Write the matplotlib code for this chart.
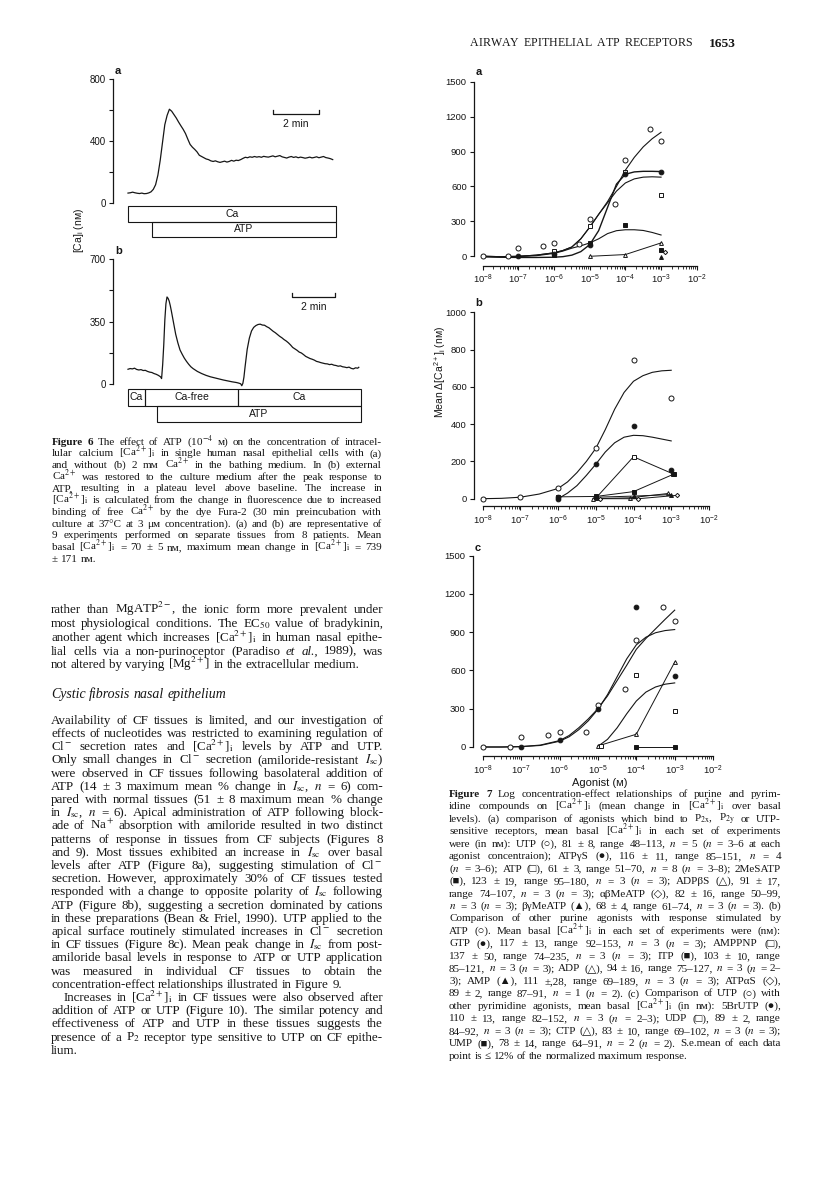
import numpy as np
import matplotlib
matplotlib.use('Agg')
import matplotlib.pyplot as plt
from matplotlib.patches import Rectangle
from matplotlib.ticker import FixedLocator, NullFormatter

W, H = 816, 1197
plt.rcParams['font.family'] = ['Liberation Sans', 'DejaVu Sans']
plt.rcParams['mathtext.fontset'] = 'custom'
plt.rcParams['mathtext.rm'] = 'Liberation Sans'
plt.rcParams['mathtext.it'] = 'Liberation Sans:italic'
plt.rcParams['mathtext.bf'] = 'Liberation Sans:bold'
SERIF = ['Liberation Serif', 'DejaVu Serif']
INK = '#161616'

# ---------------- Figure 6: single-cell [Ca]i traces (min, nM) ----------------
trace_a = [64, 66, 70, 66, 63, 61, 64, 60, 61, 65,
           72, 88, 118, 180, 275, 390, 505, 565, 605, 592,
           570, 548, 522, 498, 475, 448, 412, 378, 360, 346,
           330, 308, 300, 292, 284, 280, 272, 268, 272, 266,
           262, 266, 270, 264, 268, 275, 270, 276, 274, 280,
           288, 295, 292, 298, 295, 300, 296, 299, 295, 301,
           298, 296, 300, 304, 298, 302, 306, 298, 294, 290,
           296, 300, 294, 298, 292, 296, 293, 289, 292, 296,
           291, 294, 298, 292, 296, 300, 293, 290, 286, 280]
t_a = np.arange(len(trace_a)) * 0.1

t_b = [0, .1, .2, .3, .4, .5, .6, .7, .8, .9, 1.0, 1.1, 1.2, 1.3, 1.4, 1.5,
       1.55, 1.6, 1.65, 1.7, 1.75, 1.8, 1.85, 1.9, 1.95, 2.0,
       2.1, 2.2, 2.3, 2.4, 2.5, 2.6, 2.7, 2.8, 2.9, 3.0,
       3.2, 3.4, 3.6, 3.8, 4.0, 4.2, 4.4, 4.6, 4.8, 5.0,
       5.1, 5.2, 5.25, 5.3, 5.35, 5.4, 5.45, 5.5,
       5.6, 5.7, 5.8, 5.9, 6.0, 6.1, 6.2, 6.3, 6.4, 6.5,
       6.6, 6.7, 6.8, 6.9, 7.0, 7.1, 7.2, 7.3, 7.4, 7.5,
       7.6, 7.7, 7.8, 7.9, 8.0, 8.1, 8.2, 8.3, 8.4, 8.5,
       8.6, 8.7, 8.8, 8.9, 9.0, 9.1, 9.2, 9.3, 9.4, 9.5,
       9.6, 9.7, 9.8, 9.9, 10.0, 10.1, 10.2, 10.3, 10.4, 10.5,
       10.6, 10.65]
trace_b = [84, 88, 86, 90, 83, 80, 82, 77, 78, 72, 68, 66, 60, 56, 50, 42,
           32, 110, 220, 360, 450, 488, 480, 465, 440, 410,
           345, 280, 232, 192, 168, 146, 128, 112, 98, 88,
           72, 60, 50, 42, 36, 30, 24, 19, 14, 10,
           7, 3, -8, 5, 40, 95, 145, 195,
           258, 298, 318, 328, 334, 336, 331, 330, 322, 316,
           306, 296, 288, 278, 268, 260, 250, 242, 232, 220,
           206, 198, 190, 180, 175, 166, 156, 150, 144, 140,
           135, 128, 125, 121, 118, 115, 114, 110, 112, 107,
           105, 101, 103, 98, 96, 93, 96, 89, 86, 92,
           90, 95]

# bath solution bars: (label, start min, end min, row)
bars_a = [('Ca', 0.0, 9.04, 0), ('ATP', 1.04, 9.04, 1)]
bars_b = [('Ca', 0.0, 0.78, 0), ('Ca-free', 0.78, 5.08, 0),
          ('Ca', 5.08, 10.75, 0), ('ATP', 1.34, 10.75, 1)]

# ---------------- Figure 7: concentration-effect data (log10 M, nM) ----------------
fit_x = [-8, -7.5, -7, -6.5, -6, -5.75, -5.5, -5.25, -5, -4.75, -4.5, -4.25, -4, -3.75, -3.5, -3.25, -3]

a_fit_utp = [0, -3, 0, 10, 30, 50, 80, 150, 250, 360, 470, 600, 740, 850, 940, 1010, 1065]
a_fit_atp = [0, -3, 0, 10, 30, 50, 80, 150, 250, 360, 460, 560, 630, 665, 680, 683, 680]
a_fit_atpgs = [-5, -8, -10, -10, -8, -3, 10, 40, 100, 220, 420, 620, 705, 725, 730, 730, 728]
a_fit_mes = [0, -3, -2, 5, 25, 45, 70, 90, 115, 150, 195, 220, 228, 228, 222, 205, 183]
a_utp_x = [-8, -7.3, -7, -6.3, -6, -5.3, -5, -4.3, -4, -3.3, -3]
a_utp_y = [0, 0, 75, 90, 110, 103, 320, 450, 830, 1095, 990]
a_atpgs_x = [-7, -6, -5, -4, -3]
a_atpgs_y = [5, 18, 100, 705, 727]
a_atp_x = [-6, -5, -4, -3]
a_atp_y = [45, 263, 725, 523]
a_mes_x = [-6, -5, -4, -3]
a_mes_y = [12, 112, 268, 55]
a_adpbs_x = [-5, -4, -3]
a_adpbs_y = [0, 15, 115]
a_abme_x = [-2.9]
a_abme_y = [35]
a_bgme_x = [-3]
a_bgme_y = [-10]

b_fit_atp = [0, 2, 8, 25, 55, 90, 140, 200, 270, 370, 480, 570, 630, 660, 678, 686, 689]
b_fit_gtp_x = [-6, -5.75, -5.5, -5.25, -5, -4.75, -4.5, -4.25, -4, -3.75, -3.5, -3.25, -3]
b_fit_gtp = [0, 30, 70, 125, 185, 250, 300, 330, 340, 338, 330, 320, 310]
b_atp_x = [-8, -7, -6, -5, -4, -3]
b_atp_y = [0, 11, 59, 274, 746, 538]
b_gtp_x = [-6, -6, -5, -4, -3]
b_gtp_y = [0, 8, 188, 390, 153]
b_amppnp_x = [-5, -4, -2.95]
b_amppnp_y = [3, 225, 133]
b_itp_x = [-6, -5, -4, -2.92]
b_itp_y = [10, 12, 38, 133]
b_adp_x = [-5.08, -4.08, -3.08]
b_adp_y = [0, 5, 28]
b_amp_x = [-5, -4, -3]
b_amp_y = [8, 14, 22]
b_atpas_x = [-4.9, -3.87, -2.85]
b_atpas_y = [0, 0, 18]

c_fit_utp = [0, 0, 3, 15, 50, 90, 150, 220, 300, 400, 520, 640, 765, 850, 925, 1000, 1072]
c_fit_br = [0, 0, 3, 12, 45, 80, 135, 205, 295, 410, 550, 690, 800, 860, 895, 912, 920]
c_fit_udp_x = [-5, -4.75, -4.5, -4.25, -4, -3.75, -3.5, -3.25, -3]
c_fit_udp = [5, 60, 150, 260, 360, 430, 470, 492, 502]
c_utp_x = [-8, -7.3, -7, -6.3, -6, -5.3, -5, -4.3, -4, -3.3, -3]
c_utp_y = [0, 0, 78, 97, 115, 115, 326, 457, 835, 1093, 989]
c_br_x = [-7, -6, -5, -4, -3]
c_br_y = [0, 55, 300, 1093, 553]
c_udp_x = [-4.93, -4, -3]
c_udp_y = [5, 565, 285]
c_ctp_x = [-5, -4, -3]
c_ctp_y = [8, 100, 665]
c_ump_x = [-4, -3]
c_ump_y = [0, 0]

decade_labels = [r'$10^{-8}$', r'$10^{-7}$', r'$10^{-6}$', r'$10^{-5}$',
                 r'$10^{-4}$', r'$10^{-3}$', r'$10^{-2}$']

# ---------------- page text ----------------
CAI = r'[Ca$^{2+}$]$_{\mathrm{i}}$'
CA = r'Ca$^{2+}$'
ISC = r'$I_{\mathrm{sc}}$'

cap6 = [
    '!Figure !6 The effect of ATP (10$^{-4}$ м) on the concentration of intracel-',
    'lular calcium %CAI% in single human nasal epithelial cells with (a)',
    'and without (b) 2 mм %CA% in the bathing medium. In (b) external',
    '%CA% was restored to the culture medium after the peak response to',
    'ATP, resulting in a plateau level above baseline. The increase in',
    '%CAI% is calculated from the change in fluorescence due to increased',
    'binding of free %CA% by the dye Fura-2 (30 min preincubation with',
    'culture at 37°C at 3 μм concentration). (a) and (b) are representative of',
    '9 experiments performed on separate tissues from 8 patients. Mean',
    'basal %CAI% = 70 ± 5 nм, maximum mean change in %CAI% = 739',
    '± 171 nм.',
]

para1 = [
    'rather than MgATP$^{2-}$, the ionic form more prevalent under',
    'most physiological conditions. The EC$_{50}$ value of bradykinin,',
    'another agent which increases %CAI% in human nasal epithe-',
    'lial cells via a non-purinoceptor (Paradiso ~et ~al., 1989), was',
    'not altered by varying [Mg$^{2+}$] in the extracellular medium.',
]

para2 = [
    'Availability of CF tissues is limited, and our investigation of',
    'effects of nucleotides was restricted to examining regulation of',
    'Cl$^-$ secretion rates and %CAI% levels by ATP and UTP.',
    'Only small changes in Cl$^-$ secretion (amiloride-resistant %ISC%)',
    'were observed in CF tissues following basolateral addition of',
    'ATP (14 ± 3 maximum mean % change in %ISC%, $n$ = 6) com-',
    'pared with normal tissues (51 ± 8 maximum mean % change',
    'in %ISC%, $n$ = 6). Apical administration of ATP following block-',
    'ade of Na$^+$ absorption with amiloride resulted in two distinct',
    'patterns of response in tissues from CF subjects (Figures 8',
    'and 9). Most tissues exhibited an increase in %ISC% over basal',
    'levels after ATP (Figure 8a), suggesting stimulation of Cl$^-$',
    'secretion. However, approximately 30% of CF tissues tested',
    'responded with a change to opposite polarity of %ISC% following',
    'ATP (Figure 8b), suggesting a secretion dominated by cations',
    'in these preparations (Bean & Friel, 1990). UTP applied to the',
    'apical surface routinely stimulated increases in Cl$^-$ secretion',
    'in CF tissues (Figure 8c). Mean peak change in %ISC% from post-',
    'amiloride basal levels in response to ATP or UTP application',
    'was measured in individual CF tissues to obtain the',
    'concentration-effect relationships illustrated in Figure 9.',
    '>Increases in %CAI% in CF tissues were also observed after',
    'addition of ATP or UTP (Figure 10). The similar potency and',
    'effectiveness of ATP and UTP in these tissues suggests the',
    'presence of a P$_2$ receptor type sensitive to UTP on CF epithe-',
    'lium.',
]

cap7 = [
    '!Figure !7 Log concentration-effect relationships of purine and pyrim-',
    'idine compounds on %CAI% (mean change in %CAI% over basal',
    r'levels). (a) comparison of agonists which bind to P$_{2\mathrm{x}}$, P$_{2\mathrm{y}}$ or UTP-',
    'sensitive receptors, mean basal %CAI% in each set of experiments',
    'were (in nм): UTP (○), 81 ± 8, range 48–113, $n$ = 5 ($n$ = 3–6 at each',
    'agonist concentraion); ATPγS (●), 116 ± 11, range 85–151, $n$ = 4',
    '($n$ = 3–6); ATP (□), 61 ± 3, range 51–70, $n$ = 8 ($n$ = 3–8); 2MeSATP',
    '(■), 123 ± 19, range 95–180, $n$ = 3 ($n$ = 3); ADPβS (△), 91 ± 17,',
    'range 74–107, $n$ = 3 ($n$ = 3); αβMeATP (◇), 82 ± 16, range 50–99,',
    '$n$ = 3 ($n$ = 3); βγMeATP (▲), 68 ± 4, range 61–74, $n$ = 3 ($n$ = 3). (b)',
    'Comparison of other purine agonists with response stimulated by',
    'ATP (○). Mean basal %CAI% in each set of experiments were (nм):',
    'GTP (●), 117 ± 13, range 92–153, $n$ = 3 ($n$ = 3); AMPPNP (□),',
    '137 ± 50, range 74–235, $n$ = 3 ($n$ = 3); ITP (■), 103 ± 10, range',
    '85–121, $n$ = 3 ($n$ = 3); ADP (△), 94 ± 16, range 75–127, $n$ = 3 ($n$ = 2–',
    '3); AMP (▲), 111 ±,28, range 69–189, $n$ = 3 ($n$ = 3); ATPαS (◇),',
    '89 ± 2, range 87–91, $n$ = 1 ($n$ = 2). (c) Comparison of UTP (○) with',
    'other pyrimidine agonists, mean basal %CAI% (in nм): 5BrUTP (●),',
    '110 ± 13, range 82–152, $n$ = 3 ($n$ = 2–3); UDP (□), 89 ± 2, range',
    '84–92, $n$ = 3 ($n$ = 3); CTP (△), 83 ± 10, range 69–102, $n$ = 3 ($n$ = 3);',
    'UMP (■), 78 ± 14, range 64–91, $n$ = 2 ($n$ = 2). S.e.mean of each data',
    'point is ≤ 12% of the normalized maximum response.',
]

fig = plt.figure(figsize=(W / 100, H / 100), dpi=100)
renderer = fig.canvas.get_renderer()


def px_axes(l, t, r, b):
    return fig.add_axes([l / W, 1 - b / H, (r - l) / W, (b - t) / H])


def ptext(x, y, s, **kw):
    kw.setdefault('color', INK)
    return fig.text(x / W, 1 - y / H, s, **kw)


def set_lines(lines, x0, x1, y0, dy, size, ragged=(), indent=13):
    space = size * 0.25 * 100 / 72
    for k, line in enumerate(lines):
        y = y0 + k * dy + size * 0.33 * 100 / 72
        x = x0
        if line.startswith('>'):
            line = line[1:]
            x += indent
        arts = []
        for w in line.split():
            style, weight = 'normal', 'normal'
            if w.startswith('!'):
                w, weight = w[1:], 'bold'
            elif w.startswith('~'):
                w, style = w[1:], 'italic'
            w = w.replace('%CAI%', CAI).replace('%CA%', CA).replace('%ISC%', ISC)
            arts.append(ptext(x, y, w, fontsize=size, family=SERIF, style=style,
                              weight=weight, math_fontfamily='stix',
                              ha='left', va='baseline'))
        widths = [a.get_window_extent(renderer).width for a in arts]
        n = len(arts)
        if k not in ragged and n > 1:
            natural = sum(widths) + (n - 1) * space * 0.8
            if natural > x1 - x:
                f = (x1 - x) / natural
                for a in arts:
                    a.set_fontsize(size * f)
                widths = [a.get_window_extent(renderer).width for a in arts]
            gap = (x1 - x - sum(widths)) / (n - 1)
        else:
            gap = space
        for a, wd in zip(arts, widths):
            a.set_x(x / W)
            x += wd + gap


def spaced_caps(words, x0, x1, y, size, wordgap=5):
    arts = []
    for wi, wd in enumerate(words):
        for ch in wd:
            arts.append((wi, ptext(x0, y, ch, fontsize=size, family=SERIF,
                                   ha='left', va='baseline')))
    widths = [a.get_window_extent(renderer).width for _, a in arts]
    g = (x1 - x0 - sum(widths) - (len(words) - 1) * wordgap) / (len(arts) - 1)
    x = x0
    for i, ((wi, a), wd) in enumerate(zip(arts, widths)):
        a.set_x(x / W)
        x += wd + g
        if i + 1 < len(arts) and arts[i + 1][0] != wi:
            x += wordgap


def trace_panel(top, bottom, right, t0px, pxmin, ymax, ticks, labels, t, v,
                bar, bar_y, bars, box_top, box_bottom):
    xlim = (-(t0px - 113) / pxmin, (right - t0px) / pxmin)
    ax = px_axes(113, top, right, bottom)
    ax.plot(t, v, color=INK, lw=0.9, clip_on=False)
    ax.set_xlim(*xlim)
    ax.set_ylim(0, ymax)
    for s in ('top', 'right', 'bottom'):
        ax.spines[s].set_visible(False)
    ax.spines['left'].set_linewidth(0.9)
    ax.spines['left'].set_color(INK)
    ax.set_xticks([])
    ax.set_yticks(ticks)
    ax.set_yticklabels(labels)
    ax.tick_params(axis='y', direction='out', length=3, width=0.8, pad=2,
                   labelsize=7, colors=INK)
    ax.patch.set_visible(False)
    up = ymax * 4 / (bottom - top)
    ax.plot([bar[0], bar[0], bar[1], bar[1]], [bar_y + up, bar_y, bar_y, bar_y + up],
            color=INK, lw=0.9, clip_on=False)
    ax.text((bar[0] + bar[1]) / 2, bar_y - up * 1.3, '2 min', ha='center', va='top',
            fontsize=7.5, color=INK)

    bx = px_axes(113, box_top, right, box_bottom)
    bx.set_xlim(*xlim)
    bx.set_ylim(2, 0)
    bx.axis('off')
    for lab, s, e, row in bars:
        bx.add_patch(Rectangle((s, row), e - s, 1, fill=False, ec=INK, lw=0.8,
                               clip_on=False))
        bx.text((s + e) / 2, row + 0.5, lab, ha='center', va='center',
                fontsize=7.5, color=INK)
    return ax


trace_panel(79, 203, 340, 128, 23.0, 800, [0, 200, 400, 600, 800],
            ['0', '', '400', '', '800'], t_a, trace_a, (6.30, 8.30), 574,
            bars_a, 206, 237)
trace_panel(259, 384.3, 362, 128, 21.67, 700, [0, 175, 350, 525, 700],
            ['0', '', '350', '', '700'], t_b, trace_b, (7.57, 9.57), 488,
            bars_b, 389, 422)
ptext(115, 71, 'a', fontsize=8, weight='bold', ha='left', va='center')
ptext(115, 251, 'b', fontsize=8, weight='bold', ha='left', va='center')
ptext(79, 230, r'[Ca]$_{\mathrm{i}}$ (nм)', fontsize=7.5, rotation=90,
      ha='center', va='center')


def dose_panel(l, t, x8, dec, b, ymax, ystep, offset):
    r = x8 + 6 * dec + 1
    ax = px_axes(l, t, r, b)
    ax.set_xscale('log')
    ax.set_xlim(10 ** (-8 - (x8 - l) / dec), 10 ** (-8 + (r - x8) / dec))
    ax.set_ylim(0, ymax)
    for s in ('top', 'right'):
        ax.spines[s].set_visible(False)
    for s in ('left', 'bottom'):
        ax.spines[s].set_linewidth(0.9)
        ax.spines[s].set_color(INK)
    ax.spines['left'].set_bounds(0, ymax)
    ax.spines['bottom'].set_bounds(1e-8, 1e-2)
    ax.spines['bottom'].set_position(('outward', offset * 0.72))
    ax.set_yticks(np.arange(0, ymax + 1, ystep))
    ax.xaxis.set_major_locator(FixedLocator([10.0 ** e for e in range(-8, -1)]))
    ax.xaxis.set_minor_locator(FixedLocator([m * 10.0 ** e for e in range(-8, -2)
                                             for m in range(2, 10)]))
    ax.xaxis.set_minor_formatter(NullFormatter())
    ax.set_xticklabels(decade_labels)
    ax.tick_params(which='major', direction='out', length=3.2, width=0.8, pad=2,
                   labelsize=6.8, colors=INK)
    ax.tick_params(axis='x', which='minor', direction='out', length=2, width=0.6,
                   colors=INK)
    ax.patch.set_visible(False)
    return ax


def curve(ax, xs, ys, lw=0.8):
    ax.plot(10.0 ** np.array(xs), ys, color=INK, lw=lw, clip_on=False, zorder=2)


def pts(ax, xs, ys, marker, filled, ms, line=False):
    ax.plot(10.0 ** np.array(xs), ys, ls='-' if line else 'none', lw=0.7,
            marker=marker, ms=ms, mec=INK, mew=0.7,
            mfc=INK if filled else 'white', color=INK, clip_on=False, zorder=3)


# panel a
ax = dose_panel(474, 81.7, 482.7, 35.67, 256.3, 1500, 300, 9.4)
curve(ax, fit_x, a_fit_utp)
curve(ax, fit_x, a_fit_atp)
curve(ax, fit_x, a_fit_atpgs, lw=1.0)
curve(ax, fit_x, a_fit_mes)
pts(ax, a_adpbs_x, a_adpbs_y, '^', False, 2.8, line=True)
pts(ax, a_utp_x, a_utp_y, 'o', False, 3.6)
pts(ax, a_atp_x, a_atp_y, 's', False, 2.4)
pts(ax, a_mes_x, a_mes_y, 's', True, 2.6)
pts(ax, a_atpgs_x, a_atpgs_y, 'o', True, 3.4)
pts(ax, a_abme_x, a_abme_y, 'D', False, 2.2)
pts(ax, a_bgme_x, a_bgme_y, '^', True, 2.8)
ptext(476, 72, 'a', fontsize=8, weight='bold', ha='left', va='center')

# panel b
ax = dose_panel(474, 312.3, 482.7, 37.7, 498.7, 1000, 200, 7.3)
curve(ax, fit_x, b_fit_atp)
curve(ax, b_fit_gtp_x, b_fit_gtp)
pts(ax, b_amppnp_x, b_amppnp_y, 's', False, 2.6, line=True)
pts(ax, b_itp_x, b_itp_y, 's', True, 2.6, line=True)
pts(ax, b_adp_x, b_adp_y, '^', False, 2.8, line=True)
pts(ax, b_amp_x, b_amp_y, '^', True, 2.8, line=True)
pts(ax, b_atpas_x, b_atpas_y, 'D', False, 2.2, line=True)
pts(ax, b_atp_x, b_atp_y, 'o', False, 3.6)
pts(ax, b_gtp_x, b_gtp_y, 'o', True, 3.4)
ptext(475, 303, 'b', fontsize=8, weight='bold', ha='left', va='center')

# panel c
ax = dose_panel(473, 555.5, 482.7, 38.4, 747, 1500, 300, 9)
curve(ax, fit_x, c_fit_utp)
curve(ax, fit_x, c_fit_br)
curve(ax, c_fit_udp_x, c_fit_udp)
pts(ax, c_ctp_x, c_ctp_y, '^', False, 2.8, line=True)
pts(ax, c_ump_x, c_ump_y, 's', True, 2.6, line=True)
pts(ax, c_udp_x, c_udp_y, 's', False, 2.6)
pts(ax, c_utp_x, c_utp_y, 'o', False, 3.6)
pts(ax, c_br_x, c_br_y, 'o', True, 3.4)
ptext(475, 548, 'c', fontsize=8, weight='bold', ha='left', va='center')

ptext(600, 783, 'Agonist (м)', fontsize=8, ha='center', va='center')
ptext(440, 372, r'Mean $\Delta$[Ca$^{2+}$]$_{\mathrm{i}}$ (nм)', fontsize=7.5,
      rotation=90, ha='center', va='center')

# running head
spaced_caps(['AIRWAY', 'EPITHELIAL', 'ATP', 'RECEPTORS'], 470, 692, 46.5, 8.6)
set_lines(['!1653'], 709, 738, 43, 0, 9.6, ragged=(0,))

# captions and body text
set_lines(cap6, 52, 382, 441, 11.7, 8.0, ragged=(10,))
set_lines(para1, 51, 383, 609, 13.75, 9.4, ragged=(4,))
set_lines(['~Cystic ~fibrosis ~nasal ~epithelium'], 51, 383, 693, 0, 10.0, ragged=(0,))
set_lines(para2, 51, 383, 719.5, 13.2, 9.4, ragged=(20, 25))
set_lines(cap7, 449, 781, 793, 12.48, 8.0, ragged=(21,))

fig.savefig('out.png', dpi=100, facecolor='white')
